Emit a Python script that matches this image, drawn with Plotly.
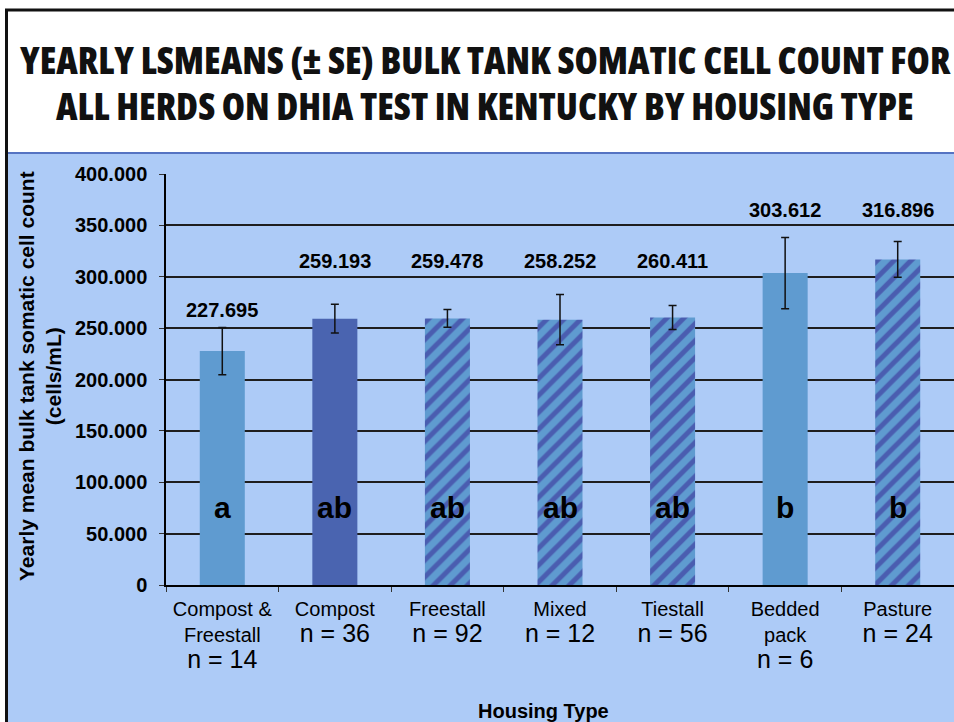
import plotly.graph_objects as go

# ---------------- data ----------------
categories = ["Compost & Freestall", "Compost", "Freestall", "Mixed",
              "Tiestall", "Bedded pack", "Pasture"]
category_lines = ["Compost &<br>Freestall", "Compost", "Freestall", "Mixed",
                  "Tiestall", "Bedded<br>pack", "Pasture"]
n_herds = [14, 36, 92, 12, 56, 6, 24]
means = [227.695, 259.193, 259.478, 258.252, 260.411, 303.612, 316.896]
se = [23.0, 14.0, 8.7, 24.5, 11.7, 34.7, 17.3]
letters = ["a", "ab", "ab", "ab", "ab", "b", "b"]
value_labels = ["227.695", "259.193", "259.478", "258.252", "260.411", "303.612", "316.896"]
y_tickvals = [0, 50, 100, 150, 200, 250, 300, 350, 400]
y_ticktext = ["0", "50.000", "100.000", "150.000", "200.000", "250.000",
              "300.000", "350.000", "400.000"]
title_lines = ["YEARLY LSMEANS (± SE) BULK TANK SOMATIC CELL COUNT FOR",
               "ALL HERDS ON DHIA TEST IN KENTUCKY BY HOUSING TYPE"]

# ---------------- style / layout constants ----------------
W, H = 954, 722
L, R, T, B = 166, 0, 174, 137
PW, PH = W - L - R, H - T - B
BG = "#ADCBF7"
LIGHT = "#5F9BD0"
DARK = "#4A64B0"
STRIPE = "#4A5DB0"
is_hatched = [False, False, True, True, True, False, True]
is_dark = [False, True, False, False, False, False, False]
value_label_y = [268, 315, 315, 315, 315, 365, 365]
letter_y = 75
FONT = "Arial, 'Liberation Sans', sans-serif"
TITLE_FONT = "'Open Sans', 'DejaVu Sans', sans-serif"


def px_x(px):
    return (px - L) / PW


def px_y(py):
    return (H - B - py) / PH


ticktext = [f"{c}<br><span style='font-size:25px'>n = {n}</span>"
            for c, n in zip(category_lines, n_herds)]

solid_idx = [i for i, h in enumerate(is_hatched) if not h]
hatch_idx = [i for i, h in enumerate(is_hatched) if h]

fig = go.Figure()
fig.add_trace(go.Bar(
    x=[categories[i] for i in solid_idx],
    y=[means[i] for i in solid_idx],
    marker=dict(color=[DARK if is_dark[i] else LIGHT for i in solid_idx],
                line=dict(width=0)),
    error_y=dict(type="data", array=[se[i] for i in solid_idx], visible=True,
                 color="#111111", thickness=1.5, width=4),
    hoverinfo="skip",
))
fig.add_trace(go.Bar(
    x=[categories[i] for i in hatch_idx],
    y=[means[i] for i in hatch_idx],
    marker=dict(
        color=LIGHT,
        line=dict(width=0),
        pattern=dict(shape="/", bgcolor=LIGHT, fgcolor=STRIPE, fgopacity=1,
                     size=12, solidity=0.42, fillmode="overlay"),
    ),
    error_y=dict(type="data", array=[se[i] for i in hatch_idx], visible=True,
                 color="#111111", thickness=1.5, width=4),
    hoverinfo="skip",
))

annotations = []
for c, lab, ly in zip(categories, value_labels, value_label_y):
    annotations.append(dict(x=c, y=ly, xref="x", yref="y", text=f"<b>{lab}</b>",
                            showarrow=False, xanchor="center", yanchor="middle",
                            font=dict(family=FONT, size=20, color="black")))
for c, let in zip(categories, letters):
    annotations.append(dict(x=c, y=letter_y, xref="x", yref="y", text=f"<b>{let}</b>",
                            showarrow=False, xanchor="center", yanchor="middle",
                            font=dict(family=FONT, size=30, color="black")))

# title
for line, py in zip(title_lines, [59, 106]):
    annotations.append(dict(x=px_x(485), y=px_y(py), xref="paper", yref="paper",
                            text=f"<span style='font-stretch:condensed'>{line}</span>",
                            showarrow=False, xanchor="center", yanchor="middle",
                            font=dict(family=TITLE_FONT, size=37.5, color="#111111",
                                      weight=800)))
# axis titles
annotations.append(dict(x=px_x(40), y=px_y(376), xref="paper", yref="paper",
                        text="<b>Yearly mean bulk tank somatic cell count<br>(cells/mL)</b>",
                        showarrow=False, textangle=-90, xanchor="center", yanchor="middle",
                        font=dict(family=FONT, size=21, color="black")))
annotations.append(dict(x=px_x(543), y=px_y(711), xref="paper", yref="paper",
                        text="<b>Housing Type</b>", showarrow=False,
                        xanchor="center", yanchor="middle",
                        font=dict(family=FONT, size=20, color="black")))

shapes = [
    dict(type="rect", xref="paper", yref="paper", layer="below",
         x0=px_x(8), x1=px_x(W + 5), y0=px_y(H + 5), y1=px_y(153),
         fillcolor=BG, line=dict(width=0)),
    dict(type="line", xref="paper", yref="paper", layer="above",
         x0=px_x(8), x1=px_x(W + 5), y0=px_y(153), y1=px_y(153),
         line=dict(color="#5573C2", width=2)),
    dict(type="line", xref="paper", yref="paper", layer="above",
         x0=px_x(6.5), x1=px_x(6.5), y0=px_y(9), y1=px_y(H + 5),
         line=dict(color="#111111", width=3)),
    dict(type="line", xref="paper", yref="paper", layer="above",
         x0=px_x(5), x1=px_x(W + 5), y0=px_y(10), y1=px_y(10),
         line=dict(color="#111111", width=3)),
]

fig.update_layout(
    width=W, height=H,
    margin=dict(l=L, r=R, t=T, b=B, pad=0),
    paper_bgcolor="white",
    plot_bgcolor=BG,
    showlegend=False,
    barmode="overlay",
    bargap=0.6,
    annotations=annotations,
    shapes=shapes,
    font=dict(family=FONT, color="black"),
)
fig.update_xaxes(
    type="category",
    categoryorder="array", categoryarray=categories,
    tickvals=categories, ticktext=ticktext,
    tickfont=dict(family=FONT, size=20, color="black"),
    ticks="outside", tickson="boundaries", ticklen=5, tickcolor="#333333",
    ticklabelstandoff=5,
    showline=True, linecolor="black", linewidth=1.5,
    showgrid=False, zeroline=False,
)
fig.update_yaxes(
    range=[0, 400],
    tickvals=y_tickvals, ticktext=y_ticktext,
    tickfont=dict(family=FONT, size=20, color="black", weight="bold"),
    ticks="outside", ticklen=5, tickcolor="#333333",
    ticklabelstandoff=8,
    showline=True, linecolor="black", linewidth=1.5,
    showgrid=True, gridcolor="#1E1E1E", gridwidth=1.5,
    zeroline=False,
)

fig.write_html(
    "out.html",
    config={"displayModeBar": False},
    post_script="document.body.style.margin='0';document.body.style.overflow='hidden';",
)
